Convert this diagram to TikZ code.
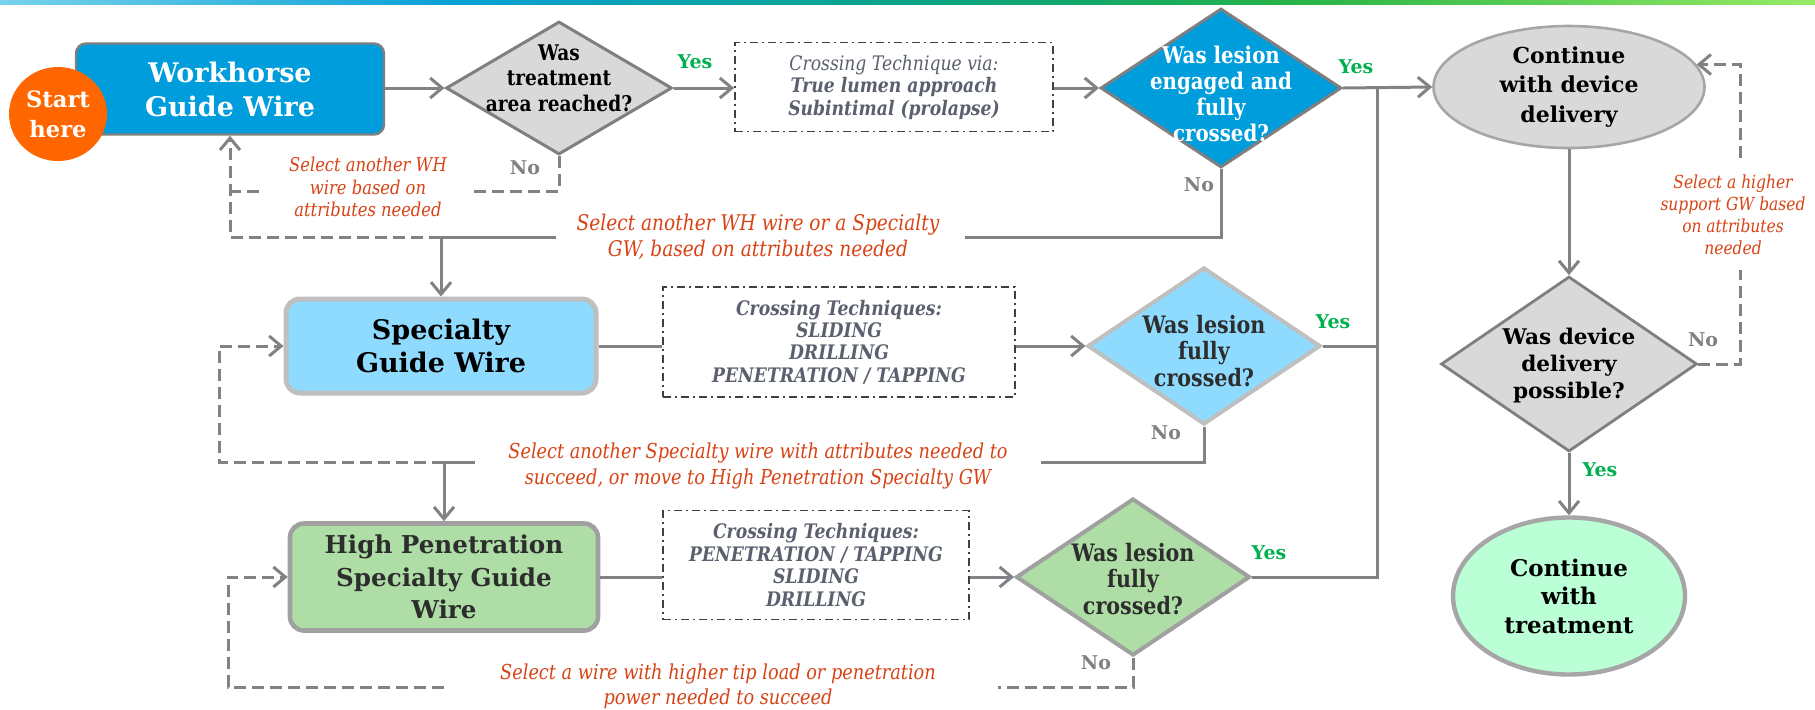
\documentclass[tikz,border=0pt]{standalone}
\usepackage{fontspec}
\setmainfont{DejaVu Serif}
\newfontfamily\cnd{DejaVu Serif}[FakeStretch=0.86]
\usetikzlibrary{shapes.geometric,arrows.meta}
\newcommand\myfs[2]{\fontsize{#1}{#2}\selectfont}
\definecolor{lnc}{RGB}{128,130,133}
\definecolor{whblue}{RGB}{0,157,220}
\definecolor{spblue}{RGB}{142,219,255}
\definecolor{hpgreen}{RGB}{174,222,166}
\definecolor{mint}{RGB}{187,255,214}
\definecolor{lgfill}{RGB}{217,217,217}
\definecolor{startor}{RGB}{255,102,0}
\definecolor{bdark}{RGB}{127,127,127}
\definecolor{blight}{RGB}{191,191,191}
\definecolor{bmid}{RGB}{160,160,160}
\definecolor{bell}{RGB}{166,166,166}
\definecolor{yesg}{RGB}{0,176,80}
\definecolor{nog}{RGB}{128,128,128}
\definecolor{redtx}{RGB}{216,67,21}
\definecolor{crtx}{RGB}{90,96,110}
\definecolor{crbd}{RGB}{64,64,64}
\definecolor{dtx}{RGB}{45,45,45}
\definecolor{barA}{RGB}{120,210,235}
\definecolor{barB}{RGB}{10,160,215}
\definecolor{barC}{RGB}{15,165,110}
\definecolor{barD}{RGB}{40,180,70}
\definecolor{barE}{RGB}{150,235,100}
\begin{document}
\begin{tikzpicture}[x=0.5pt,y=-0.5pt,
  conn/.style={draw=lnc, line width=1.5pt},
  dconn/.style={conn, dash pattern=on 6pt off 3pt},
  arr/.style={-{Straight Barb[length=6pt,width=10pt]}},
  rbox/.style={rectangle, align=center, inner sep=0pt},
  dia/.style={diamond, inner sep=0pt},
  ell/.style={ellipse, inner sep=0pt, align=center},
  cross/.style={rectangle, draw=crbd, line width=0.8pt, dash pattern=on 4pt off 2pt on 1pt off 2pt, align=center, inner sep=0pt, text=crtx},
  dtxt/.style={align=center, inner sep=0pt},
  yes/.style={font=\bfseries\myfs{9.5}{11}, text=yesg, inner sep=0pt},
  no/.style={font=\bfseries\myfs{9.5}{11}, text=nog, inner sep=0pt},
  redt/.style={align=center, inner sep=0pt, text=redtx}]
\useasboundingbox (0,0) rectangle (1815,709);
\fill[white] (0,0) rectangle (1815,709);
% top bar
\shade[left color=barA,right color=barB] (0,0) rectangle (451,4.5);
\shade[left color=barB,right color=barC] (450,0) rectangle (1051,4.5);
\shade[left color=barC,right color=barD] (1050,0) rectangle (1301,4.5);
\shade[left color=barD,right color=barE] (1300,0) rectangle (1815,4.5);

% row 1
\node[rbox, fill=whblue, draw=bdark, line width=1.2pt, rounded corners=5pt, minimum width=154pt, minimum height=45.5pt, text=white, font=\bfseries\myfs{13.5}{17}] (wh) at (230,89) {Workhorse\\Guide Wire};
\node[ell, fill=startor, minimum width=49pt, minimum height=47pt, text=white, font=\bfseries\myfs{11.3}{15}] (st) at (58,114) {Start\\here};
\node[dia, fill=lgfill, draw=bdark, line width=1.5pt, minimum width=113pt, minimum height=66.5pt] (d1) at (559,88) {};
\node[dtxt, text=black, font=\cnd\bfseries\myfs{10.8}{12.75}] (d1t) at (559,78) {Was\\treatment\\area reached?};
\node[cross, minimum width=159pt, minimum height=44.5pt, font=\cnd\myfs{10}{11.25}] (cb1) at (894,87) {{\itshape Crossing Technique via:}\\{\bfseries\itshape True lumen approach}\\{\bfseries\itshape Subintimal (prolapse)}};
\node[dia, fill=whblue, draw=bdark, line width=1.5pt, minimum width=120.5pt, minimum height=79.5pt] (d2) at (1221,88) {};
\node[dtxt, text=white, font=\cnd\bfseries\myfs{11.5}{13}] (d2t) at (1221,94) {Was lesion\\engaged and\\fully\\crossed?};
\node[ell, fill=lgfill, draw=bell, line width=1.3pt, minimum width=135.5pt, minimum height=61pt, font=\bfseries\myfs{11}{14.75}] (e1) at (1569,87) {Continue\\with device\\delivery};

% row 2
\node[rbox, fill=spblue, draw=blight, line width=2.5pt, rounded corners=7pt, minimum width=155pt, minimum height=47pt, text=black, font=\bfseries\myfs{13.5}{16.5}] (sp) at (441,346) {Specialty\\Guide Wire};
\node[cross, minimum width=176pt, minimum height=55pt, font=\cnd\bfseries\itshape\myfs{10}{11.2}] (cb2) at (839,342) {Crossing Techniques:\\SLIDING\\DRILLING\\PENETRATION / TAPPING};
\node[dia, fill=spblue, draw=blight, line width=2pt, minimum width=116.5pt, minimum height=78.5pt] (d3) at (1204,346) {};
\node[dtxt, text=dtx, font=\cnd\bfseries\myfs{12}{13.2}] (d3t) at (1204,351) {Was lesion\\fully\\crossed?};
\node[dia, fill=lgfill, draw=bdark, line width=1.4pt, minimum width=128pt, minimum height=87.5pt] (d4) at (1569,364) {};
\node[dtxt, text=black, font=\bfseries\myfs{10.8}{13.5}] (d4t) at (1569,366) {Was device\\delivery\\possible?};

% row 3
\node[rbox, fill=hpgreen, draw=bmid, line width=2.3pt, rounded corners=7pt, minimum width=154pt, minimum height=53.5pt, text=dtx, font=\bfseries\myfs{12.3}{16.25}] (hp) at (444,577) {High Penetration\\Specialty Guide\\Wire};
\node[cross, minimum width=153pt, minimum height=54.5pt, font=\cnd\bfseries\itshape\myfs{10}{11.2}] (cb3) at (816,565) {Crossing Techniques:\\PENETRATION / TAPPING\\SLIDING\\DRILLING};
\node[dia, fill=hpgreen, draw=bmid, line width=2pt, minimum width=117pt, minimum height=78.5pt] (d5) at (1133,577) {};
\node[dtxt, text=dtx, font=\cnd\bfseries\myfs{12}{13.2}] (d5t) at (1133,579) {Was lesion\\fully\\crossed?};
\node[ell, fill=mint, draw=bell, line width=2.2pt, minimum width=116pt, minimum height=78.5pt, font=\bfseries\myfs{11.5}{14.25}] (e2) at (1569,596) {Continue\\with\\treatment};

% explanatory texts
\node[redt, font=\cnd\itshape\myfs{9.5}{11.25}] (t1) at (368,187) {Select another WH\\wire based on\\attributes needed};
\node[redt, font=\cnd\itshape\myfs{10.8}{12.75}] (t2) at (758,237) {Select another WH wire or a Specialty\\GW, based on attributes needed};
\node[redt, font=\cnd\itshape\myfs{10.3}{13}] (t3) at (758,466) {Select another Specialty wire with attributes needed to\\succeed, or move to High Penetration Specialty GW};
\node[redt, font=\cnd\itshape\myfs{10.3}{12.5}] (t4) at (718,686) {Select a wire with higher tip load or penetration\\power needed to succeed};
\node[redt, font=\cnd\itshape\myfs{9}{11}] (t5) at (1733,215) {Select a higher\\support GW based\\on attributes\\needed};

% yes / no
\node[yes] (y1) at (695,62) {Yes};
\node[no] (no1) at (525,168) {No};
\node[yes] (y2) at (1356,67) {Yes};
\node[no] (no2) at (1199,185) {No};
\node[yes] (y3) at (1333,322) {Yes};
\node[no] (no3) at (1166,433) {No};
\node[yes] (y5) at (1269,553) {Yes};
\node[no] (no5) at (1096,663) {No};
\node[yes] (y4) at (1600,470) {Yes};
\node[no] (no4) at (1703,340) {No};

% coordinates
\coordinate (ctop) at (1377,88);
\coordinate (cbot) at (1377,577);
\coordinate (n1a) at (473,191);
\coordinate (n1b) at (259,191);
\coordinate (j1) at (441,237);
\coordinate (n2a) at (965,237);
\coordinate (n2b) at (556,237);
\coordinate (n3a) at (1041,462);
\coordinate (n3b) at (475,462);
\coordinate (j2) at (444,462);
\coordinate (c2) at (219,462);
\coordinate (n5a) at (998,687);
\coordinate (n5b) at (444,687);
\coordinate (c3) at (228,687);
\coordinate (n4a) at (1740,270);
\coordinate (n4b) at (1740,158);

% row 1 connectors
\draw[conn,arr] (wh.east |- d1.west) -- (d1.west);
\draw[conn,arr] (d1.east) -- (cb1.west |- d1.east);
\draw[conn,arr] (cb1.east |- d2.west) -- (d2.west);
\draw[conn,arr] (d2.east) -- (e1.west);
\draw[conn] (d5.east) -- (cbot) -- (ctop);
\draw[conn] (d3.east) -- (d3.east -| cbot);
\draw[conn,arr] (e1.south) -- (d4.north);
\draw[conn,arr] (d4.south) -- (e2.north);
\draw[dconn] (d4.east) -| (n4a);
\draw[dconn,arr] (n4b) |- (e1.10);

% no branches
\draw[dconn] (d1.south) |- (n1a);
\draw[dconn] (n1b) -- (n1b -| wh.south);
\draw[dconn,arr] (j1) -| (wh.south);
\draw[conn] (d2.south) |- (n2a);
\draw[conn] (n2b) -- (j1);
\draw[conn,arr] (j1) -- (sp.north);

\draw[conn] (sp.east) -- (sp.east -| cb2.west);
\draw[conn,arr] (cb2.east |- d3.west) -- (d3.west);
\draw[conn] (d3.south) |- (n3a);
\draw[conn] (n3b) -- (j2);
\draw[conn,arr] (j2) -- (hp.north);
\draw[dconn,arr] (j2) -- (c2) |- (sp.west);

\draw[conn] (hp.east) -- (hp.east -| cb3.west);
\draw[conn,arr] (cb3.east |- d5.west) -- (d5.west);
\draw[dconn] (d5.south) |- (n5a);
\draw[dconn,arr] (n5b) -- (c3) |- (hp.west);
\end{tikzpicture}
\end{document}
